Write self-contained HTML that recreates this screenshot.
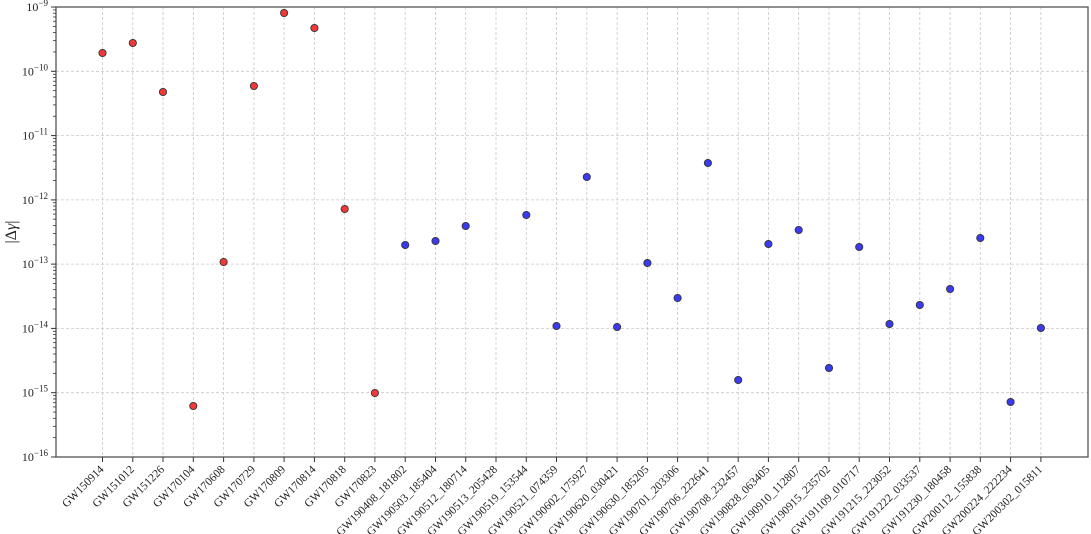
<!DOCTYPE html>
<html><head><meta charset="utf-8"><style>
html,body{margin:0;padding:0;background:#fff}
svg{display:block}
text{font-family:"Liberation Serif",serif;fill:#222}
</style></head><body>
<svg width="1091" height="534" viewBox="0 0 1091 534" xmlns="http://www.w3.org/2000/svg">
<defs>
<g id="mt" stroke="#333" stroke-width="0.8">
<line x1="53" x2="56" y1="-19.35" y2="-19.35"/><line x1="53" x2="56" y1="-30.67" y2="-30.67"/>
<line x1="53" x2="56" y1="-38.71" y2="-38.71"/><line x1="53" x2="56" y1="-44.94" y2="-44.94"/>
<line x1="53" x2="56" y1="-50.03" y2="-50.03"/><line x1="53" x2="56" y1="-54.33" y2="-54.33"/>
<line x1="53" x2="56" y1="-58.06" y2="-58.06"/><line x1="53" x2="56" y1="-61.35" y2="-61.35"/>
</g>
</defs>
<g stroke="#c8c8c8" stroke-width="0.8" stroke-dasharray="3,2">
<line x1="56" x2="1088" y1="71.3" y2="71.3"/><line x1="56" x2="1088" y1="135.6" y2="135.6"/>
<line x1="56" x2="1088" y1="199.9" y2="199.9"/><line x1="56" x2="1088" y1="264.1" y2="264.1"/>
<line x1="56" x2="1088" y1="328.4" y2="328.4"/><line x1="56" x2="1088" y1="392.7" y2="392.7"/>
<line y1="7" y2="457" x1="102.5" x2="102.5"/><line y1="7" y2="457" x1="132.8" x2="132.8"/>
<line y1="7" y2="457" x1="163.0" x2="163.0"/><line y1="7" y2="457" x1="193.3" x2="193.3"/>
<line y1="7" y2="457" x1="223.6" x2="223.6"/><line y1="7" y2="457" x1="253.9" x2="253.9"/>
<line y1="7" y2="457" x1="284.1" x2="284.1"/><line y1="7" y2="457" x1="314.4" x2="314.4"/>
<line y1="7" y2="457" x1="344.7" x2="344.7"/><line y1="7" y2="457" x1="374.9" x2="374.9"/>
<line y1="7" y2="457" x1="405.2" x2="405.2"/><line y1="7" y2="457" x1="435.5" x2="435.5"/>
<line y1="7" y2="457" x1="465.7" x2="465.7"/><line y1="7" y2="457" x1="496.0" x2="496.0"/>
<line y1="7" y2="457" x1="526.3" x2="526.3"/><line y1="7" y2="457" x1="556.5" x2="556.5"/>
<line y1="7" y2="457" x1="586.8" x2="586.8"/><line y1="7" y2="457" x1="617.1" x2="617.1"/>
<line y1="7" y2="457" x1="647.4" x2="647.4"/><line y1="7" y2="457" x1="677.6" x2="677.6"/>
<line y1="7" y2="457" x1="707.9" x2="707.9"/><line y1="7" y2="457" x1="738.2" x2="738.2"/>
<line y1="7" y2="457" x1="768.4" x2="768.4"/><line y1="7" y2="457" x1="798.7" x2="798.7"/>
<line y1="7" y2="457" x1="829.0" x2="829.0"/><line y1="7" y2="457" x1="859.2" x2="859.2"/>
<line y1="7" y2="457" x1="889.5" x2="889.5"/><line y1="7" y2="457" x1="919.8" x2="919.8"/>
<line y1="7" y2="457" x1="950.1" x2="950.1"/><line y1="7" y2="457" x1="980.3" x2="980.3"/>
<line y1="7" y2="457" x1="1010.6" x2="1010.6"/><line y1="7" y2="457" x1="1040.9" x2="1040.9"/>
</g>
<rect x="56" y="7" width="1032" height="450" fill="none" stroke="#555" stroke-width="1.3"/>
<g stroke="#333" stroke-width="1">
<line x1="51" x2="56" y1="7" y2="7"/><line x1="51" x2="56" y1="71.3" y2="71.3"/>
<line x1="51" x2="56" y1="135.6" y2="135.6"/><line x1="51" x2="56" y1="199.9" y2="199.9"/>
<line x1="51" x2="56" y1="264.1" y2="264.1"/><line x1="51" x2="56" y1="328.4" y2="328.4"/>
<line x1="51" x2="56" y1="392.7" y2="392.7"/><line x1="51" x2="56" y1="457" y2="457"/>
</g>
<use href="#mt" y="71.3"/><use href="#mt" y="135.6"/><use href="#mt" y="199.9"/><use href="#mt" y="264.1"/>
<use href="#mt" y="328.4"/><use href="#mt" y="392.7"/><use href="#mt" y="457"/>
<g stroke="#333" stroke-width="1">
<line y1="457" y2="462" x1="102.5" x2="102.5"/><line y1="457" y2="462" x1="132.8" x2="132.8"/>
<line y1="457" y2="462" x1="163.0" x2="163.0"/><line y1="457" y2="462" x1="193.3" x2="193.3"/>
<line y1="457" y2="462" x1="223.6" x2="223.6"/><line y1="457" y2="462" x1="253.9" x2="253.9"/>
<line y1="457" y2="462" x1="284.1" x2="284.1"/><line y1="457" y2="462" x1="314.4" x2="314.4"/>
<line y1="457" y2="462" x1="344.7" x2="344.7"/><line y1="457" y2="462" x1="374.9" x2="374.9"/>
<line y1="457" y2="462" x1="405.2" x2="405.2"/><line y1="457" y2="462" x1="435.5" x2="435.5"/>
<line y1="457" y2="462" x1="465.7" x2="465.7"/><line y1="457" y2="462" x1="496.0" x2="496.0"/>
<line y1="457" y2="462" x1="526.3" x2="526.3"/><line y1="457" y2="462" x1="556.5" x2="556.5"/>
<line y1="457" y2="462" x1="586.8" x2="586.8"/><line y1="457" y2="462" x1="617.1" x2="617.1"/>
<line y1="457" y2="462" x1="647.4" x2="647.4"/><line y1="457" y2="462" x1="677.6" x2="677.6"/>
<line y1="457" y2="462" x1="707.9" x2="707.9"/><line y1="457" y2="462" x1="738.2" x2="738.2"/>
<line y1="457" y2="462" x1="768.4" x2="768.4"/><line y1="457" y2="462" x1="798.7" x2="798.7"/>
<line y1="457" y2="462" x1="829.0" x2="829.0"/><line y1="457" y2="462" x1="859.2" x2="859.2"/>
<line y1="457" y2="462" x1="889.5" x2="889.5"/><line y1="457" y2="462" x1="919.8" x2="919.8"/>
<line y1="457" y2="462" x1="950.1" x2="950.1"/><line y1="457" y2="462" x1="980.3" x2="980.3"/>
<line y1="457" y2="462" x1="1010.6" x2="1010.6"/><line y1="457" y2="462" x1="1040.9" x2="1040.9"/>
</g>
<g font-size="12" text-anchor="end">
<text x="48" y="11">10<tspan font-size="9" dy="-5">−9</tspan></text>
<text x="48" y="75.3">10<tspan font-size="9" dy="-5">−10</tspan></text>
<text x="48" y="139.6">10<tspan font-size="9" dy="-5">−11</tspan></text>
<text x="48" y="203.9">10<tspan font-size="9" dy="-5">−12</tspan></text>
<text x="48" y="268.1">10<tspan font-size="9" dy="-5">−13</tspan></text>
<text x="48" y="332.4">10<tspan font-size="9" dy="-5">−14</tspan></text>
<text x="48" y="396.7">10<tspan font-size="9" dy="-5">−15</tspan></text>
<text x="48" y="461">10<tspan font-size="9" dy="-5">−16</tspan></text>
</g>
<text x="16" y="232" font-size="16" text-anchor="middle" transform="rotate(-90,16,232)">|Δ<tspan font-style="italic">γ</tspan>|</text>
<g font-size="11.5" text-anchor="end">
<text x="104.5" y="470" transform="rotate(-45,104.5,470)">GW150914</text>
<text x="134.8" y="470" transform="rotate(-45,134.8,470)">GW151012</text>
<text x="165.0" y="470" transform="rotate(-45,165.0,470)">GW151226</text>
<text x="195.3" y="470" transform="rotate(-45,195.3,470)">GW170104</text>
<text x="225.6" y="470" transform="rotate(-45,225.6,470)">GW170608</text>
<text x="255.9" y="470" transform="rotate(-45,255.9,470)">GW170729</text>
<text x="286.1" y="470" transform="rotate(-45,286.1,470)">GW170809</text>
<text x="316.4" y="470" transform="rotate(-45,316.4,470)">GW170814</text>
<text x="346.7" y="470" transform="rotate(-45,346.7,470)">GW170818</text>
<text x="376.9" y="470" transform="rotate(-45,376.9,470)">GW170823</text>
<text x="407.2" y="470" transform="rotate(-45,407.2,470)">GW190408_181802</text>
<text x="437.5" y="470" transform="rotate(-45,437.5,470)">GW190503_185404</text>
<text x="467.7" y="470" transform="rotate(-45,467.7,470)">GW190512_180714</text>
<text x="498.0" y="470" transform="rotate(-45,498.0,470)">GW190513_205428</text>
<text x="528.3" y="470" transform="rotate(-45,528.3,470)">GW190519_153544</text>
<text x="558.5" y="470" transform="rotate(-45,558.5,470)">GW190521_074359</text>
<text x="588.8" y="470" transform="rotate(-45,588.8,470)">GW190602_175927</text>
<text x="619.1" y="470" transform="rotate(-45,619.1,470)">GW190620_030421</text>
<text x="649.4" y="470" transform="rotate(-45,649.4,470)">GW190630_185205</text>
<text x="679.6" y="470" transform="rotate(-45,679.6,470)">GW190701_203306</text>
<text x="709.9" y="470" transform="rotate(-45,709.9,470)">GW190706_222641</text>
<text x="740.2" y="470" transform="rotate(-45,740.2,470)">GW190708_232457</text>
<text x="770.4" y="470" transform="rotate(-45,770.4,470)">GW190828_063405</text>
<text x="800.7" y="470" transform="rotate(-45,800.7,470)">GW190910_112807</text>
<text x="831.0" y="470" transform="rotate(-45,831.0,470)">GW190915_235702</text>
<text x="861.2" y="470" transform="rotate(-45,861.2,470)">GW191109_010717</text>
<text x="891.5" y="470" transform="rotate(-45,891.5,470)">GW191215_223052</text>
<text x="921.8" y="470" transform="rotate(-45,921.8,470)">GW191222_033537</text>
<text x="952.1" y="470" transform="rotate(-45,952.1,470)">GW191230_180458</text>
<text x="982.3" y="470" transform="rotate(-45,982.3,470)">GW200112_155838</text>
<text x="1012.6" y="470" transform="rotate(-45,1012.6,470)">GW200224_222234</text>
<text x="1042.9" y="470" transform="rotate(-45,1042.9,470)">GW200302_015811</text>
</g>
<g fill="#f03838" stroke="#333" stroke-width="0.9">
<circle cx="102.5" cy="53" r="3.6"/><circle cx="132.8" cy="43" r="3.6"/>
<circle cx="163.0" cy="92" r="3.6"/><circle cx="193.3" cy="406" r="3.6"/>
<circle cx="223.6" cy="262" r="3.6"/><circle cx="253.9" cy="86" r="3.6"/>
<circle cx="284.1" cy="13" r="3.6"/><circle cx="314.4" cy="28" r="3.6"/>
<circle cx="344.7" cy="209" r="3.6"/><circle cx="374.9" cy="393" r="3.6"/>
</g>
<g fill="#3a3af0" stroke="#333" stroke-width="0.9">
<circle cx="405.2" cy="245" r="3.6"/><circle cx="435.5" cy="241" r="3.6"/>
<circle cx="465.7" cy="226" r="3.6"/><circle cx="526.3" cy="215" r="3.6"/>
<circle cx="556.5" cy="326" r="3.6"/><circle cx="586.8" cy="177" r="3.6"/>
<circle cx="617.1" cy="327" r="3.6"/><circle cx="647.4" cy="263" r="3.6"/>
<circle cx="677.6" cy="298" r="3.6"/><circle cx="707.9" cy="163" r="3.6"/>
<circle cx="738.2" cy="380" r="3.6"/><circle cx="768.4" cy="244" r="3.6"/>
<circle cx="798.7" cy="230" r="3.6"/><circle cx="829.0" cy="368" r="3.6"/>
<circle cx="859.2" cy="247" r="3.6"/><circle cx="889.5" cy="324" r="3.6"/>
<circle cx="919.8" cy="305" r="3.6"/><circle cx="950.1" cy="289" r="3.6"/>
<circle cx="980.3" cy="238" r="3.6"/><circle cx="1010.6" cy="402" r="3.6"/>
<circle cx="1040.9" cy="328" r="3.6"/>
</g>
</svg>
</body></html>
